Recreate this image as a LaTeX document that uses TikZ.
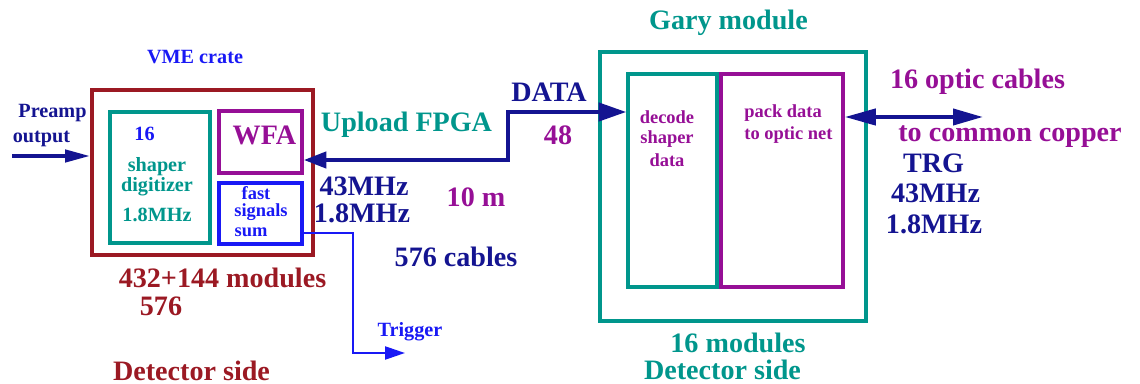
\documentclass[tikz,border=0pt]{standalone}
\usepackage{fontspec}
\setmainfont{Liberation Serif}
\usetikzlibrary{arrows.meta}

\definecolor{cratered}{RGB}{155,25,35}
\definecolor{tealg}{RGB}{0,150,140}
\definecolor{purp}{RGB}{150,15,150}
\definecolor{navyb}{RGB}{20,20,145}
\definecolor{brightb}{RGB}{25,25,245}

\begin{document}
\begin{tikzpicture}[
  bigtxt/.style={font=\fontsize{16}{18}\selectfont\bfseries, inner sep=0pt},
  midtxt/.style={font=\fontsize{11.5}{13}\selectfont\bfseries, inner sep=0pt},
  smalltxt/.style={font=\fontsize{10.5}{12}\selectfont\bfseries, inner sep=0pt},
  box/.style={draw, line width=2pt, inner sep=0pt},
  thick link/.style={line width=2.3pt},
]
\useasboundingbox (0,0) rectangle (22.8,7.68);

% detector side: VME crate
\node (crate) at (4.05,4.23) [box, cratered, minimum width=4.42cm, minimum height=3.30cm] {};
\node (shaper) at (3.2,4.13) [box, tealg, minimum width=2.0cm, minimum height=2.62cm] {};
\node (wfa) at (5.21,4.84) [box, purp, minimum width=1.66cm, minimum height=1.24cm] {};
\node (fast) at (5.21,3.41) [box, brightb, minimum width=1.66cm, minimum height=1.22cm] {};

\node (vme) at (3.9,6.53) [midtxt, brightb] {VME crate};
\node (pre1) at (1.05,5.42) [midtxt, navyb] {Preamp};
\node (pre2) at (0.83,4.90) [midtxt, navyb] {output};
\node (n16) at (2.89,5.0) [midtxt, brightb] {16};
\node (sh1) at (3.14,4.34) [midtxt, tealg] {shaper};
\node (sh2) at (3.14,3.94) [midtxt, tealg] {digitizer};
\node (sh3) at (3.14,3.38) [midtxt, tealg] {1.8MHz};
\node (wfatxt) at (5.29,4.98) [bigtxt, purp] {WFA};
\node (fs1) at (5.12,3.81) [smalltxt, brightb] {fast};
\node (fs2) at (5.22,3.43) [smalltxt, brightb] {signals};
\node (fs3) at (5.02,3.03) [smalltxt, brightb] {sum};
\node (mods) at (4.45,2.12) [bigtxt, cratered] {432+144 modules};
\node (n576) at (3.22,1.56) [bigtxt, cratered] {576};
\node (detl) at (3.83,0.26) [bigtxt, cratered] {Detector side};

% cables between the two sides
\node (upload) at (8.13,5.18) [bigtxt, tealg] {Upload FPGA};
\node (data) at (10.98,5.84) [bigtxt, navyb] {DATA};
\node (n48) at (11.16,4.98) [bigtxt, purp] {48};
\node (f43) at (7.28,3.96) [bigtxt, navyb] {43MHz};
\node (f18) at (7.24,3.42) [bigtxt, navyb] {1.8MHz};
\node (ten) at (9.52,3.74) [bigtxt, purp] {10 m};
\node (cables) at (9.12,2.54) [bigtxt, navyb] {576 cables};
\node (trg) at (8.2,1.04) [midtxt, brightb] {Trigger};

% Gary module
\node (gary) at (14.66,3.95) [box, tealg, minimum width=5.32cm, minimum height=5.38cm] {};
\node (decode) at (13.45,4.07) [box, tealg, minimum width=1.78cm, minimum height=4.26cm] {};
\node (pack) at (15.64,4.07) [box, purp, minimum width=2.44cm, minimum height=4.26cm] {};

\node (garytxt) at (14.57,7.22) [bigtxt, tealg] {Gary module};
\node (dc1) at (13.34,5.34) [smalltxt, purp] {decode};
\node (dc2) at (13.34,4.90) [smalltxt, purp] {shaper};
\node (dc3) at (13.34,4.48) [smalltxt, purp] {data};
\node (pk1) at (14.88,5.42) [smalltxt, purp, anchor=west] {pack data};
\node (pk2) at (14.88,4.98) [smalltxt, purp, anchor=west] {to optic net};
\node (optic) at (19.55,6.04) [bigtxt, purp] {16 optic cables};
\node (copper) at (17.96,4.94) [bigtxt, purp, anchor=west] {to common copper};
\node (trgr) at (18.67,4.42) [bigtxt, navyb] {TRG};
\node (r43) at (18.71,3.82) [bigtxt, navyb] {43MHz};
\node (r18) at (18.68,3.20) [bigtxt, navyb] {1.8MHz};
\node (n16m) at (14.76,0.82) [bigtxt, tealg] {16 modules};
\node (detr) at (14.45,0.28) [bigtxt, tealg] {Detector side};

% connectors
\coordinate (prein) at (0.24,4.56);
\draw [navyb, thick link, -{Triangle[length=0.5cm,width=0.24cm]}] (prein) -- (crate.west |- prein);

\coordinate (dlow) at (10.16,4.48);
\coordinate (dhigh) at (10.16,5.44);
\draw [navyb, thick link, {Triangle[length=0.45cm,width=0.32cm]}-{Triangle[length=0.55cm,width=0.36cm]}]
  (wfa.east |- dlow) -- (dlow) -- (dhigh) -- (decode.west |- dhigh);

\coordinate (ttop) at (7.06,3.02);
\coordinate (tbot) at (7.06,0.62);
\coordinate (tend) at (8.1,0.62);
\draw [brightb, line width=1.3pt, -{Triangle[length=0.4cm,width=0.26cm]}]
  (fast.east |- ttop) -- (ttop) -- (tbot) -- (tend);

\coordinate (optend) at (19.66,5.34);
\draw [navyb, thick link, {Triangle[length=0.62cm,width=0.32cm]}-{Triangle[length=0.6cm,width=0.32cm]}]
  (pack.east |- optend) -- (optend);

\end{tikzpicture}
\end{document}
